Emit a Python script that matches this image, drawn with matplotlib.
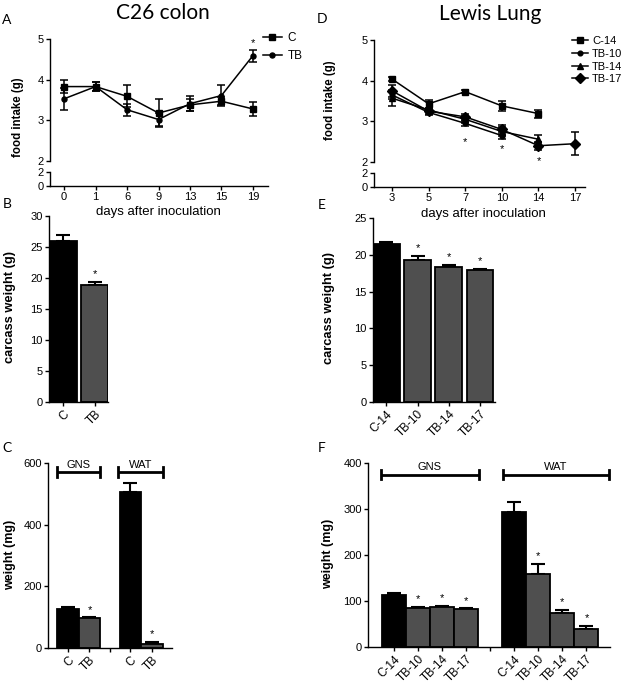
import matplotlib
matplotlib.use('Agg')
import matplotlib.pyplot as plt
from matplotlib.lines import Line2D
import numpy as np

W, H = 629, 686
plt.rcParams['font.family'] = ['Liberation Sans', 'DejaVu Sans']
plt.rcParams['font.size'] = 8
plt.rcParams['axes.linewidth'] = 1.0

# ---------------- data ----------------
# A: C26 colon food intake
days_A = ['0', '1', '6', '9', '13', '15', '19']
A_C = [3.83, 3.83, 3.59, 3.18, 3.38, 3.47, 3.28]
A_C_err = [0.16, 0.12, 0.27, 0.35, 0.15, 0.10, 0.18]
A_TB = [3.53, 3.83, 3.26, 3.02, 3.41, 3.61, 4.59]
A_TB_err = [0.27, 0.12, 0.15, 0.17, 0.18, 0.25, 0.15]
A_sig = ['', '', '', '', '', '', '*']

# D: Lewis lung food intake
days_D = ['3', '5', '7', '10', '14', '17']
D_C14 = [4.04, 3.43, 3.73, 3.38, 3.19]
D_C14_err = [0.04, 0.10, 0.04, 0.12, 0.10]
D_TB10 = [3.65, 3.22, 2.95, 2.65]
D_TB10_err = [0.10, 0.06, 0.06, 0.08]
D_TB14 = [3.57, 3.28, 3.05, 2.75, 2.56]
D_TB14_err = [0.20, 0.06, 0.08, 0.10, 0.10]
D_TB17 = [3.75, 3.25, 3.11, 2.80, 2.40, 2.45]
D_TB17_err = [0.15, 0.06, 0.08, 0.10, 0.10, 0.29]
D_sig = ['', '', '*', '*', '*', '']
D_sig_y = [None, None, 2.48, 2.32, 2.03, None]

# B: carcass weight C26
B_groups = ['C', 'TB']
B_vals = [26.0, 18.9]
B_err = [0.9, 0.4]
B_sig = ['', '*']

# E: carcass weight LLC
E_groups = ['C-14', 'TB-10', 'TB-14', 'TB-17']
E_vals = [21.4, 19.3, 18.4, 18.0]
E_err = [0.35, 0.55, 0.2, 0.1]
E_sig = ['', '*', '*', '*']

# C: tissue weights C26
tissues = ['GNS', 'WAT']
C_groups = ['C', 'TB']
C_GNS = [126, 96]
C_GNS_err = [7, 3]
C_WAT = [505, 12]
C_WAT_err = [29, 7]
C_sig = ['', '*']

# F: tissue weights LLC
F_groups = ['C-14', 'TB-10', 'TB-14', 'TB-17']
F_GNS = [112, 85, 87, 82]
F_GNS_err = [6, 2, 3, 2]
F_WAT = [293, 159, 74, 40]
F_WAT_err = [22, 21, 7, 6]
F_sig = ['', '*', '*', '*']

GRAY = '#4f4f4f'

fig = plt.figure(figsize=(W / 100, H / 100), dpi=100)


def ax_px(x0, y0, x1, y1):
    return fig.add_axes([x0 / W, 1 - y1 / H, (x1 - x0) / W, (y1 - y0) / H])


def style(ax):
    ax.spines['top'].set_visible(False)
    ax.spines['right'].set_visible(False)
    ax.tick_params(direction='out', length=3, width=1.0, labelsize=8, pad=1.5)


def ftext(x, y, s, **kw):
    fig.text(x / W, 1 - y / H, s, **kw)


# ---------- line panels (broken axes) ----------
def line_panel(xl, xr, ytop, ybreak, ylow0, ybot, xlim, labels):
    up = ax_px(xl, ytop, xr, ybreak)
    lo = ax_px(xl, ylow0, xr, ybot)
    for a in (up, lo):
        style(a)
        a.set_xlim(*xlim)
    up.spines['bottom'].set_visible(False)
    up.tick_params(axis='x', bottom=False, labelbottom=False)
    up.set_ylim(2, 5)
    up.set_yticks([2, 3, 4, 5])
    lo.set_ylim(0, 2)
    lo.set_yticks([0, 2])
    lo.set_xticks(range(len(labels)))
    lo.set_xticklabels(labels)
    return up, lo


ekw = dict(color='black', lw=1.1, elinewidth=1.1, capsize=2.6, capthick=1.1)

upA, loA = line_panel(50, 268, 39, 161, 172, 186, (-0.45, 6.48), days_A)
xa = np.arange(len(days_A))
upA.errorbar(xa, A_C, yerr=A_C_err, fmt='-s', ms=4.3, **ekw)
upA.errorbar(xa, A_TB, yerr=A_TB_err, fmt='-o', ms=3.6, **ekw)
for i, s in enumerate(A_sig):
    if s:
        upA.annotate(s, (xa[i], A_TB[i] + A_TB_err[i]), xytext=(0, 1),
                     textcoords='offset points', ha='center', va='bottom', fontsize=8)
hA = [Line2D([], [], color='black', marker='s', ms=4.3, lw=1.1),
      Line2D([], [], color='black', marker='o', ms=3.6, lw=1.1)]
upA.legend(hA, ['C', 'TB'], loc='upper left', bbox_to_anchor=(263 / W, 1 - 32 / H),
           bbox_transform=fig.transFigure, frameon=False, handlelength=1.6,
           handletextpad=0.5, labelspacing=0.55, borderpad=0, borderaxespad=0, fontsize=8.5)

upD, loD = line_panel(374, 585, 40, 162, 173, 187, (-0.49, 5.27), days_D)
xd = np.arange(len(days_D))
upD.errorbar(xd[:len(D_C14)], D_C14, yerr=D_C14_err, fmt='-s', ms=4.3, **ekw)
upD.errorbar(xd[:len(D_TB10)], D_TB10, yerr=D_TB10_err, fmt='-o', ms=3.4, **ekw)
upD.errorbar(xd[:len(D_TB14)], D_TB14, yerr=D_TB14_err, fmt='-^', ms=3.8, **ekw)
upD.errorbar(xd[:len(D_TB17)], D_TB17, yerr=D_TB17_err, fmt='-D', ms=4.6, **ekw)
for i, s in enumerate(D_sig):
    if s:
        upD.text(xd[i], D_sig_y[i], s, ha='center', va='center', fontsize=8)
hD = [Line2D([], [], color='black', marker='s', ms=4.3, lw=1.1),
      Line2D([], [], color='black', marker='o', ms=3.4, lw=1.1),
      Line2D([], [], color='black', marker='^', ms=3.8, lw=1.1),
      Line2D([], [], color='black', marker='D', ms=4.6, lw=1.1)]
upD.legend(hD, ['C-14', 'TB-10', 'TB-14', 'TB-17'], loc='upper left',
           bbox_to_anchor=(572 / W, 1 - 36 / H), bbox_transform=fig.transFigure,
           frameon=False, handlelength=1.4, handletextpad=0.4, labelspacing=0.25,
           borderpad=0, borderaxespad=0, fontsize=8)

# ---------- bar panels ----------
bkw = dict(edgecolor='black', linewidth=1.3)
errkw = dict(elinewidth=1.5, capthick=1.5, capsize=5)


def bars(ax, x, vals, errs, colors, width):
    ax.bar(x, vals, width=width, color=colors, **bkw, zorder=2)
    ax.errorbar(x, vals, yerr=[np.zeros(len(vals)), errs], fmt='none',
                ecolor='black', zorder=1, **errkw)


def stars(ax, x, vals, errs, sig):
    for xi, v, e, s in zip(x, vals, errs, sig):
        if s:
            ax.annotate(s, (xi, v + e), xytext=(0, 2), textcoords='offset points',
                        ha='center', va='bottom', fontsize=8)


def rot_labels(ax, labels):
    ax.set_xticklabels(labels, rotation=45, ha='right', rotation_mode='anchor',
                       fontsize=8.5)


# B
axB = ax_px(49, 216, 108, 402)
style(axB)
xb = np.arange(len(B_groups))
bars(axB, xb, B_vals, B_err, ['black', GRAY], 0.86)
stars(axB, xb, B_vals, B_err, B_sig)
axB.set_xlim(-0.45, 1.42)
axB.set_ylim(0, 30)
axB.set_yticks(range(0, 31, 5))
axB.set_xticks(xb)
rot_labels(axB, B_groups)

# E
axE = ax_px(373, 218, 495, 402)
style(axE)
xe = np.arange(len(E_groups))
bars(axE, xe, E_vals, E_err, ['black'] + [GRAY] * 3, 0.86)
stars(axE, xe, E_vals, E_err, E_sig)
axE.set_xlim(-0.43, 3.48)
axE.set_ylim(0, 25)
axE.set_yticks(range(0, 26, 5))
axE.set_xticks(xe)
rot_labels(axE, E_groups)


def bracket(ax, x0, x1, y, h, label):
    ax.plot([x0, x1], [y, y], color='black', lw=2.0, solid_capstyle='butt', clip_on=False)
    for xx in (x0, x1):
        ax.plot([xx, xx], [y - h, y + h], color='black', lw=2.0, clip_on=False)
    ax.annotate(label, ((x0 + x1) / 2, y), xytext=(0, 1.5), textcoords='offset points',
                ha='center', va='bottom', fontsize=8)


# C
axC = ax_px(48, 463, 172, 648)
style(axC)
xg = np.array([0.0, 1.0])
xw = np.array([2.9, 3.9])
bars(axC, xg, C_GNS, C_GNS_err, ['black', GRAY], 1.0)
bars(axC, xw, C_WAT, C_WAT_err, ['black', GRAY], 1.0)
stars(axC, xg, C_GNS, C_GNS_err, C_sig)
stars(axC, xw, C_WAT, C_WAT_err, C_sig)
axC.set_xlim(-0.93, 4.84)
axC.set_ylim(0, 600)
axC.set_yticks([0, 200, 400, 600])
axC.set_xticks(list(xg) + [1.95] + list(xw))
rot_labels(axC, C_groups + [''] + C_groups)
bracket(axC, -0.5, 1.5, 571, 16, tissues[0])
bracket(axC, 2.35, 4.4, 571, 16, tissues[1])

# F
axF = ax_px(368, 463, 610, 647)
style(axF)
xfg = np.arange(4, dtype=float)
xfw = np.arange(5, 9, dtype=float)
bars(axF, xfg, F_GNS, F_GNS_err, ['black'] + [GRAY] * 3, 1.0)
bars(axF, xfw, F_WAT, F_WAT_err, ['black'] + [GRAY] * 3, 1.0)
stars(axF, xfg, F_GNS, F_GNS_err, F_sig)
stars(axF, xfw, F_WAT, F_WAT_err, F_sig)
axF.set_xlim(-1.1, 8.98)
axF.set_ylim(0, 400)
axF.set_yticks([0, 100, 200, 300, 400])
axF.set_xticks(list(xfg) + [4.0] + list(xfw))
rot_labels(axF, F_groups + [''] + F_groups)
bracket(axF, -0.56, 3.52, 375, 10, tissues[0])
bracket(axF, 4.52, 8.94, 375, 10, tissues[1])

# ---------- text ----------
lbl = dict(fontweight='bold', rotation=90, ha='center', va='center')
ftext(18, 117, 'food intake (g)', fontsize=8.3, **lbl)
ftext(330, 100, 'food intake (g)', fontsize=8.3, **lbl)
ftext(10, 307, 'carcass weight (g)', fontsize=9.3, **lbl)
ftext(329, 308, 'carcass weight (g)', fontsize=9.3, **lbl)
ftext(10, 555, 'weight (mg)', fontsize=9.0, **lbl)
ftext(328, 554, 'weight (mg)', fontsize=9.0, **lbl)

ftext(158, 212, 'days after inoculation', fontsize=9.5, ha='center', va='center')
ftext(483, 214, 'days after inoculation', fontsize=9.5, ha='center', va='center')

tkw = dict(fontsize=15, ha='center', va='center', family=['Lato', 'DejaVu Sans'])
ftext(163, 13, 'C26 colon', **tkw)
ftext(490, 14, 'Lewis Lung', **tkw)

pkw = dict(fontsize=10, ha='center', va='center', family=['Lato', 'DejaVu Sans'])
for (x, y, s) in [(7, 20, 'A'), (7, 204, 'B'), (7, 448, 'C'),
                  (322, 19, 'D'), (322, 205, 'E'), (322, 448, 'F')]:
    ftext(x, y, s, **pkw)

fig.savefig('out.png', dpi=100)
